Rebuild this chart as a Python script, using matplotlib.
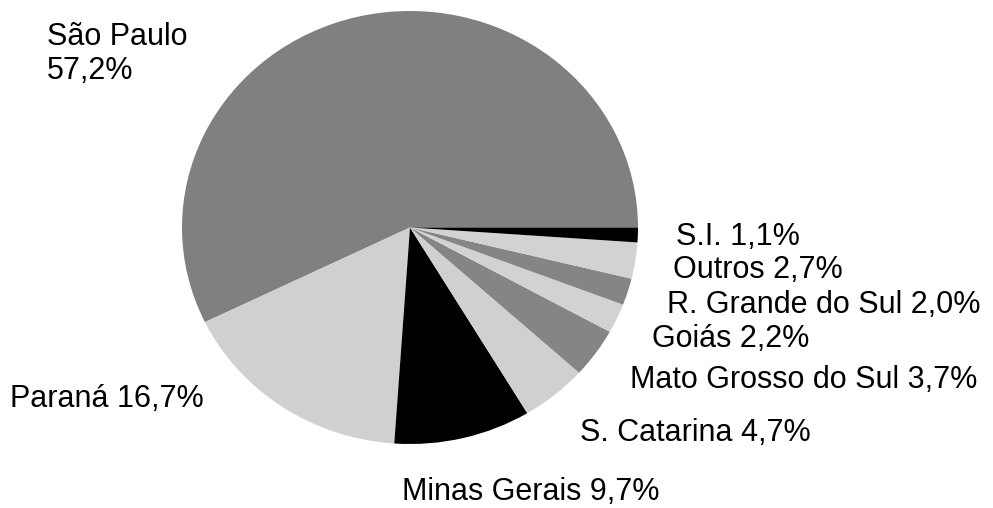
import matplotlib
matplotlib.use("Agg")
import matplotlib.pyplot as plt

# Data
states = ["São Paulo", "Paraná", "Minas Gerais", "S. Catarina",
          "Mato Grosso do Sul", "Goiás", "R. Grande do Sul", "Outros", "S.I."]
shares = [57.2, 16.7, 9.7, 4.7, 3.7, 2.2, 2.0, 2.7, 1.1]
share_text = ["57,2%", "16,7%", "9,7%", "4,7%", "3,7%", "2,2%", "2,0%", "2,7%", "1,1%"]

# Style
colors = ["#808080", "#d0d0d0", "#000000", "#d0d0d0", "#858585",
          "#d2d2d2", "#858585", "#d2d2d2", "#000000"]
# label anchor positions in pixels (left x, baseline y)
label_pos = [(47, 45), (10, 407), (402, 500), (580, 441), (630, 388),
             (652, 347), (667, 313), (673, 278), (676, 245)]

W, H = 993, 508
fig = plt.figure(figsize=(W / 100, H / 100), dpi=100)
fig.patch.set_facecolor("white")

ax = fig.add_axes([182 / W, (H - 444) / H, 456 / W, 433 / H])
ax.pie(shares, colors=colors, startangle=0, counterclock=True,
       wedgeprops=dict(linewidth=0, edgecolor="none"))
ax.set_aspect("auto")
ax.set_xlim(-1, 1)
ax.set_ylim(-1, 1)
ax.axis("off")

fs = 22
font = ["Liberation Sans", "DejaVu Sans"]
for i, (name, txt) in enumerate(zip(states, share_text)):
    x, y = label_pos[i]
    if i == 0:
        fig.text(x / W, 1 - y / H, name, fontsize=fs, family=font,
                 ha="left", va="baseline", color="black")
        fig.text(x / W, 1 - 79 / H, txt, fontsize=fs, family=font,
                 ha="left", va="baseline", color="black")
    else:
        fig.text(x / W, 1 - y / H, f"{name} {txt}", fontsize=fs, family=font,
                 ha="left", va="baseline", color="black")

fig.savefig("out.png", dpi=100, facecolor="white")
